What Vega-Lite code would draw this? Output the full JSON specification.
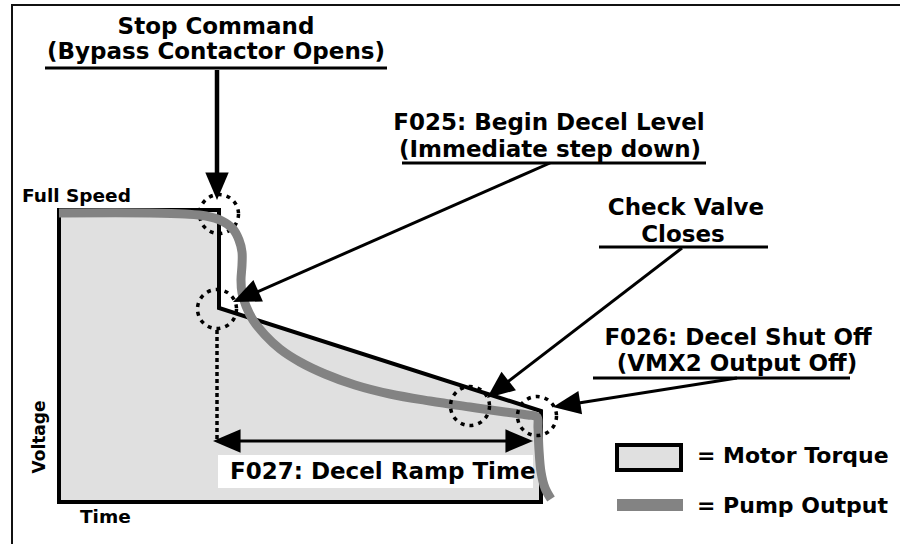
{
  "$schema": "https://vega.github.io/schema/vega-lite/v6.json",
  "width": 900,
  "height": 544,
  "padding": 0,
  "autosize": "none",
  "background": "white",
  "config": {"view": {"stroke": null}},
  "datasets": {
    "border": [{"i": 1, "x": 12, "y": 544}, {"i": 2, "x": 12, "y": 5}, {"i": 3, "x": 900, "y": 5}],
    "torqueFill": [{"x": 59, "y": 210}, {"x": 219, "y": 210}, {"x": 219, "y": 308}, {"x": 541, "y": 411}],
    "torqueEdge": [
      {"i": 1, "x": 300, "y": 502}, {"i": 2, "x": 59, "y": 502}, {"i": 3, "x": 59, "y": 210},
      {"i": 4, "x": 219, "y": 210}, {"i": 5, "x": 219, "y": 308}, {"i": 6, "x": 541, "y": 411},
      {"i": 7, "x": 541, "y": 502}, {"i": 8, "x": 300, "y": 502}
    ],
    "whiteBox": [{"x": 218, "x2": 533, "y": 455, "y2": 488}],
    "dotted": [{"x": 217, "y": 330, "x2": 217, "y2": 440}],
    "pump": [
      {"i": 1, "x": 59, "y": 213}, {"i": 2, "x": 150, "y": 213}, {"i": 3, "x": 185, "y": 214},
      {"i": 4, "x": 206, "y": 216}, {"i": 5, "x": 222, "y": 221}, {"i": 6, "x": 233, "y": 229},
      {"i": 7, "x": 239, "y": 240}, {"i": 8, "x": 242, "y": 252}, {"i": 9, "x": 242, "y": 265},
      {"i": 10, "x": 241, "y": 280}, {"i": 11, "x": 242, "y": 293}, {"i": 12, "x": 246, "y": 306},
      {"i": 13, "x": 253, "y": 320}, {"i": 14, "x": 265, "y": 335}, {"i": 15, "x": 280, "y": 349},
      {"i": 16, "x": 300, "y": 362}, {"i": 17, "x": 325, "y": 374}, {"i": 18, "x": 355, "y": 385},
      {"i": 19, "x": 390, "y": 394}, {"i": 20, "x": 430, "y": 401}, {"i": 21, "x": 470, "y": 407},
      {"i": 22, "x": 505, "y": 412}, {"i": 23, "x": 528, "y": 415}, {"i": 24, "x": 537, "y": 417},
      {"i": 25, "x": 538, "y": 428}, {"i": 26, "x": 539, "y": 450}, {"i": 27, "x": 541, "y": 472},
      {"i": 28, "x": 545, "y": 488}, {"i": 29, "x": 551, "y": 499}
    ],
    "underlines": [
      {"x": 45, "y": 68, "x2": 387, "y2": 68},
      {"x": 402, "y": 163, "x2": 706, "y2": 163},
      {"x": 599, "y": 247, "x2": 768, "y2": 247},
      {"x": 593, "y": 378, "x2": 850, "y2": 378}
    ],
    "stopShaft": [{"x": 217, "y": 70, "x2": 217, "y2": 185}],
    "shafts": [
      {"x": 550, "y": 163, "x2": 248, "y2": 296},
      {"x": 682, "y": 248, "x2": 497, "y2": 390},
      {"x": 737, "y": 378, "x2": 566, "y2": 405},
      {"x": 225, "y": 441, "x2": 521, "y2": 441}
    ],
    "heads": [
      {"x": 217, "y": 200, "dir": 180},
      {"x": 233, "y": 302, "dir": 246},
      {"x": 487, "y": 398, "dir": 232},
      {"x": 553, "y": 407, "dir": 261},
      {"x": 213, "y": 441, "dir": 270},
      {"x": 533, "y": 441, "dir": 90}
    ],
    "circlesUnder": [{"x": 219, "y": 214}, {"x": 217, "y": 309}],
    "circlesOver": [{"x": 470, "y": 406}, {"x": 537, "y": 416}],
    "legendBox": [{"x": 617, "x2": 681, "y": 445, "y2": 470}],
    "legendBar": [{"x": 617, "x2": 683, "y": 499, "y2": 511}],
    "centerLabels": [
      {"x": 216, "y": 34, "text": "Stop Command"},
      {"x": 216, "y": 59, "text": "(Bypass Contactor Opens)"},
      {"x": 549, "y": 130, "text": "F025: Begin Decel Level"},
      {"x": 550, "y": 157, "text": "(Immediate step down)"},
      {"x": 686, "y": 215, "text": "Check Valve"},
      {"x": 683, "y": 242, "text": "Closes"},
      {"x": 738, "y": 345, "text": "F026: Decel Shut Off"},
      {"x": 737, "y": 371, "text": "(VMX2 Output Off)"}
    ],
    "rampLabel": [{"x": 230, "y": 479, "text": "F027: Decel Ramp Time"}],
    "legendLabels": [
      {"x": 697, "y": 463, "text": "= Motor Torque"},
      {"x": 697, "y": 513, "text": "= Pump Output"}
    ],
    "axisLabels": [
      {"x": 22, "y": 202, "text": "Full Speed"},
      {"x": 80, "y": 523, "text": "Time"}
    ],
    "voltage": [{"x": 45, "y": 437, "text": "Voltage"}]
  },
  "encoding": {
    "x": {"field": "x", "type": "quantitative", "scale": {"domain": [0, 900], "nice": false, "zero": false}, "axis": null},
    "y": {"field": "y", "type": "quantitative", "scale": {"domain": [0, 544], "nice": false, "zero": false, "reverse": true}, "axis": null}
  },
  "layer": [
    {
      "data": {"name": "border"},
      "mark": {"type": "line", "stroke": "#111111", "strokeWidth": 2},
      "encoding": {"order": {"field": "i"}}
    },
    {
      "data": {"name": "torqueFill"},
      "mark": {"type": "area", "fill": "#e0e0e0", "opacity": 1},
      "encoding": {"y2": {"datum": 502}}
    },
    {
      "data": {"name": "whiteBox"},
      "mark": {"type": "rect", "fill": "white"},
      "encoding": {"x2": {"field": "x2"}, "y2": {"field": "y2"}}
    },
    {
      "data": {"name": "torqueEdge"},
      "mark": {"type": "line", "stroke": "black", "strokeWidth": 4, "strokeJoin": "miter"},
      "encoding": {"order": {"field": "i"}}
    },
    {
      "data": {"name": "dotted"},
      "mark": {"type": "rule", "stroke": "black", "strokeWidth": 3.5, "strokeDash": [4, 3]},
      "encoding": {"x2": {"field": "x2"}, "y2": {"field": "y2"}}
    },
    {
      "data": {"name": "circlesUnder"},
      "mark": {"type": "point", "shape": "circle", "filled": false, "stroke": "black", "strokeWidth": 3.5, "strokeDash": [4, 5], "size": 1521, "opacity": 1}
    },
    {
      "data": {"name": "pump"},
      "mark": {"type": "line", "stroke": "#838383", "strokeWidth": 9, "interpolate": "catmull-rom", "strokeCap": "butt"},
      "encoding": {"order": {"field": "i"}}
    },
    {
      "data": {"name": "circlesOver"},
      "mark": {"type": "point", "shape": "circle", "filled": false, "stroke": "black", "strokeWidth": 3.5, "strokeDash": [4, 5], "size": 1521, "opacity": 1}
    },
    {
      "data": {"name": "underlines"},
      "mark": {"type": "rule", "stroke": "black", "strokeWidth": 3},
      "encoding": {"x2": {"field": "x2"}, "y2": {"field": "y2"}}
    },
    {
      "data": {"name": "stopShaft"},
      "mark": {"type": "rule", "stroke": "black", "strokeWidth": 4.5},
      "encoding": {"x2": {"field": "x2"}, "y2": {"field": "y2"}}
    },
    {
      "data": {"name": "shafts"},
      "mark": {"type": "rule", "stroke": "black", "strokeWidth": 3},
      "encoding": {"x2": {"field": "x2"}, "y2": {"field": "y2"}}
    },
    {
      "data": {"name": "heads"},
      "mark": {"type": "point", "shape": "M0,0L0.85,2L-0.85,2Z", "filled": true, "fill": "black", "strokeWidth": 0, "size": 760, "opacity": 1},
      "encoding": {"angle": {"field": "dir", "type": "quantitative", "scale": null}}
    },
    {
      "data": {"name": "legendBox"},
      "mark": {"type": "rect", "fill": "#e0e0e0", "stroke": "black", "strokeWidth": 4},
      "encoding": {"x2": {"field": "x2"}, "y2": {"field": "y2"}}
    },
    {
      "data": {"name": "legendBar"},
      "mark": {"type": "rect", "fill": "#838383"},
      "encoding": {"x2": {"field": "x2"}, "y2": {"field": "y2"}}
    },
    {
      "data": {"name": "centerLabels"},
      "mark": {"type": "text", "font": "DejaVu Sans", "fontWeight": "bold", "fontSize": 23, "align": "center", "baseline": "alphabetic", "fill": "black"},
      "encoding": {"text": {"field": "text"}}
    },
    {
      "data": {"name": "rampLabel"},
      "mark": {"type": "text", "font": "DejaVu Sans", "fontWeight": "bold", "fontSize": 23, "align": "left", "baseline": "alphabetic", "fill": "black"},
      "encoding": {"text": {"field": "text"}}
    },
    {
      "data": {"name": "legendLabels"},
      "mark": {"type": "text", "font": "DejaVu Sans", "fontWeight": "bold", "fontSize": 22, "align": "left", "baseline": "alphabetic", "fill": "black"},
      "encoding": {"text": {"field": "text"}}
    },
    {
      "data": {"name": "axisLabels"},
      "mark": {"type": "text", "font": "DejaVu Sans", "fontWeight": "bold", "fontSize": 18.5, "align": "left", "baseline": "alphabetic", "fill": "black"},
      "encoding": {"text": {"field": "text"}}
    },
    {
      "data": {"name": "voltage"},
      "mark": {"type": "text", "font": "DejaVu Sans", "fontWeight": "bold", "fontSize": 17, "align": "center", "baseline": "alphabetic", "angle": 270, "fill": "black"},
      "encoding": {"text": {"field": "text"}}
    }
  ]
}
